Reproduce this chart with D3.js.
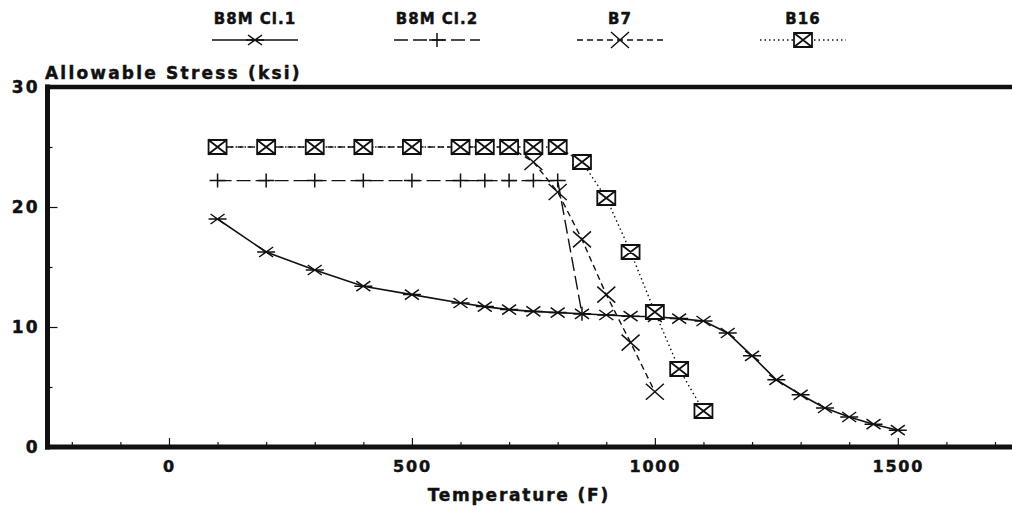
<!DOCTYPE html>
<html>
<head>
<meta charset="utf-8">
<script src="https://cdn.jsdelivr.net/npm/d3@7"></script>
<style>
  html, body { margin: 0; padding: 0; background: #fff; }
  svg { display: block; }
  text { font-family: "DejaVu Sans", Verdana, sans-serif; font-weight: bold; fill: #111; stroke: #111; stroke-width: 0.45px; }
</style>
</head>
<body>
<svg id="chart" width="1012" height="508"></svg>
<script>
// Temperatures (F) and allowable stress (ksi) for each bolting grade
const tempsCl1 = [100, 200, 300, 400, 500, 600, 650, 700, 750, 800, 850, 900, 950, 1000, 1050, 1100, 1150, 1200, 1250, 1300, 1350, 1400, 1450, 1500];
const stressCl1 = [19.0, 16.25, 14.75, 13.4, 12.7, 12.0, 11.7, 11.45, 11.3, 11.2, 11.1, 11.0, 10.9, 10.85, 10.7, 10.5, 9.5, 7.6, 5.6, 4.35, 3.25, 2.5, 1.9, 1.4];

const tempsCl2 = [100, 200, 300, 400, 500, 600, 650, 700, 750, 800, 850];
const stressCl2 = [22.2, 22.2, 22.2, 22.2, 22.2, 22.2, 22.2, 22.2, 22.2, 22.2, 11.1];

const tempsB7 = [100, 200, 300, 400, 500, 600, 650, 700, 750, 800, 850, 900, 950, 1000];
const stressB7 = [25.0, 25.0, 25.0, 25.0, 25.0, 25.0, 25.0, 25.0, 23.75, 21.25, 17.3, 12.7, 8.7, 4.6];

const tempsB16 = [100, 200, 300, 400, 500, 600, 650, 700, 750, 800, 850, 900, 950, 1000, 1050, 1100];
const stressB16 = [25.0, 25.0, 25.0, 25.0, 25.0, 25.0, 25.0, 25.0, 25.0, 25.0, 23.75, 20.75, 16.25, 11.25, 6.5, 3.0];

const xTickValues = [-200, -100, 0, 100, 200, 300, 400, 500, 600, 700, 800, 900, 1000, 1100, 1200, 1300, 1400, 1500, 1600, 1700];
const xLabelValues = [0, 500, 1000, 1500];
const yTickValues = [0, 5, 10, 15, 20, 25, 30];
const yLabelValues = [0, 10, 20, 30];

const seriesNames = ["B8M Cl.1", "B8M Cl.2", "B7", "B16"];

const svg = d3.select("#chart");

const x = d3.scaleLinear().domain([-250, 1735]).range([47.5, 1012]);
const y = d3.scaleLinear().domain([0, 30]).range([447, 87]);

// marker shapes
const markerPaths = {
  asterisk: "M-7,-5L7,5M-7,5L7,-5M-9,0L9,0",
  plus: "M-8,0L8,0M0,-7L0,7",
  cross: "M-9,-8L9,8M-9,8L9,-8",
  box: "M-9,-7H9V7H-9ZM-9,-7L9,7M-9,7L9,-7"
};

const series = [
  { name: seriesNames[0], t: tempsCl1, v: stressCl1, dash: null, marker: "asterisk", width: 1.6 },
  { name: seriesNames[1], t: tempsCl2, v: stressCl2, dash: "14,5", marker: "plus", width: 1.4 },
  { name: seriesNames[2], t: tempsB7, v: stressB7, dash: "6,4", marker: "cross", width: 1.4 },
  { name: seriesNames[3], t: tempsB16, v: stressB16, dash: "1.5,3", marker: "box", width: 1.4 }
];

// axis ticks (inward)
const xAxis = d3.axisBottom(x).tickValues(xTickValues)
  .tickSize(0).tickFormat("");
const gx = svg.append("g").attr("transform", `translate(0,${y(0)})`).call(xAxis);
gx.select(".domain").remove();
gx.selectAll(".tick").append("line")
  .attr("y1", -2)
  .attr("y2", d => xLabelValues.includes(d) ? -9 : -5)
  .attr("stroke", "#111").attr("stroke-width", 1.2);
gx.selectAll(".tick").filter(d => xLabelValues.includes(d)).append("text")
  .attr("y", 25).attr("text-anchor", "middle")
  .style("font-size", "16px").style("letter-spacing", "1.8px")
  .text(d => d);

const yAxis = d3.axisLeft(y).tickValues(yTickValues).tickSize(0).tickFormat("");
const gy = svg.append("g").attr("transform", `translate(${x(-250)},0)`).call(yAxis);
gy.select(".domain").remove();
gy.selectAll(".tick").filter(d => d > 0 && d < 30).append("line")
  .attr("x1", 2)
  .attr("x2", d => yLabelValues.includes(d) ? 10 : 5)
  .attr("stroke", "#111").attr("stroke-width", 1.2);
gy.selectAll(".tick").filter(d => yLabelValues.includes(d)).append("text")
  .attr("x", -8).attr("dy", "0.3em").attr("text-anchor", "end")
  .style("font-size", "17px").style("letter-spacing", "2px")
  .text(d => d);

// heavy frame lines: left, bottom and top
svg.append("line").attr("x1", x(-250)).attr("x2", x(-250)).attr("y1", y(30) - 2.5).attr("y2", y(0) + 2.5)
  .attr("stroke", "#111").attr("stroke-width", 5);
svg.append("line").attr("x1", x(-250) - 2.5).attr("x2", x(1735)).attr("y1", y(0)).attr("y2", y(0))
  .attr("stroke", "#111").attr("stroke-width", 5);
svg.append("line").attr("x1", x(-250) - 2.5).attr("x2", x(1735)).attr("y1", y(30)).attr("y2", y(30))
  .attr("stroke", "#111").attr("stroke-width", 4.5);

// axis titles
svg.append("text").attr("x", 45).attr("y", 79)
  .style("font-size", "17px").style("letter-spacing", "2.2px")
  .text("Allowable Stress (ksi)");
svg.append("text").attr("x", x(720)).attr("y", 501).attr("text-anchor", "middle")
  .style("font-size", "17px").style("letter-spacing", "1.8px")
  .text("Temperature (F)");

// series lines and markers
const line = d3.line().x(d => x(d[0])).y(d => y(d[1]));
series.forEach(s => {
  const pts = s.t.map((t, i) => [t, s.v[i]]);
  svg.append("path").datum(pts)
    .attr("d", line)
    .attr("fill", "none").attr("stroke", "#111")
    .attr("stroke-width", s.width)
    .attr("stroke-dasharray", s.dash);
  svg.append("g").selectAll("path").data(pts).join("path")
    .attr("transform", d => `translate(${x(d[0])},${y(d[1])})`)
    .attr("d", markerPaths[s.marker])
    .attr("fill", s.marker === "box" ? "#fff" : "none")
    .attr("stroke", "#111")
    .attr("stroke-width", s.marker === "box" ? 1.8 : 1.5);
});

// legend across the top
const legendCenters = [255, 437, 620, 803];
const legend = svg.append("g").selectAll("g").data(series).join("g")
  .attr("transform", (d, i) => `translate(${legendCenters[i]},0)`);
legend.append("text").attr("y", 24).attr("text-anchor", "middle")
  .style("font-size", "15px").style("letter-spacing", "1px")
  .text(d => d.name);
legend.append("line").attr("x1", -43).attr("x2", 43).attr("y1", 40).attr("y2", 40)
  .attr("stroke", "#111").attr("stroke-width", d => d.width)
  .attr("stroke-dasharray", d => d.dash);
legend.append("path").attr("transform", "translate(0,40)")
  .attr("d", d => markerPaths[d.marker])
  .attr("fill", d => d.marker === "box" ? "#fff" : "none")
  .attr("stroke", "#111").attr("stroke-width", d => d.marker === "box" ? 1.8 : 1.5);
</script>
</body>
</html>
